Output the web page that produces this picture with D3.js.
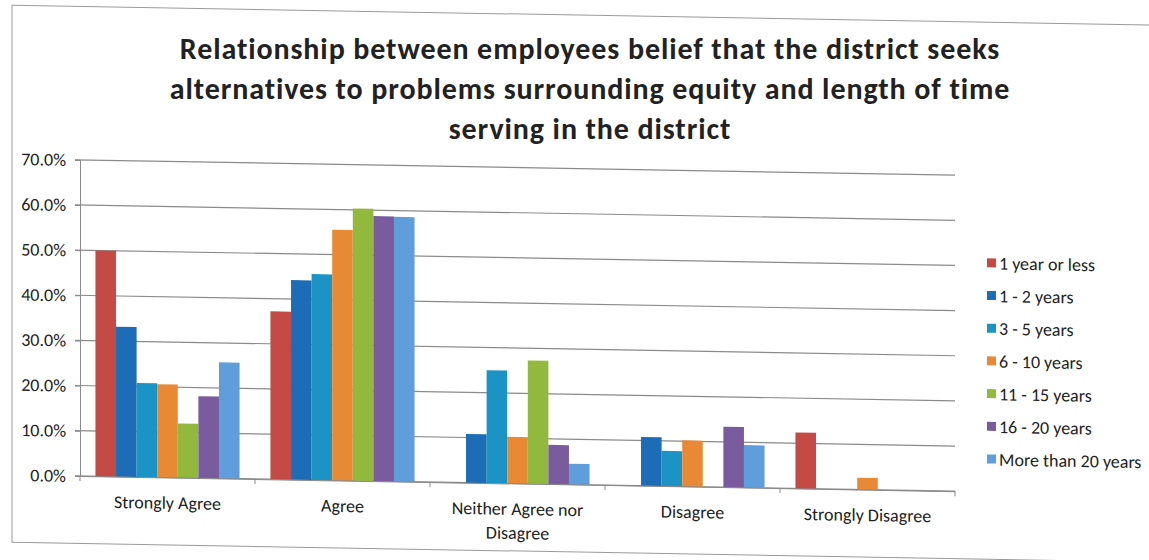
<!DOCTYPE html>
<html>
<head>
<meta charset="utf-8">
<script src="https://cdn.jsdelivr.net/npm/d3@7"></script>
<style>
  body { margin: 0; background: #fff; }
  text { font-family: Carlito, Calibri, Lato, sans-serif; fill: #222; }
</style>
</head>
<body>
<script>
(function(){

	var categories = ["Strongly Agree", "Agree", "Neither Agree nor Disagree", "Disagree", "Strongly Disagree"];
	var seriesNames = ["1 year or less", "1 - 2 years", "3 - 5 years", "6 - 10 years", "11 - 15 years", "16 - 20 years", "More than 20 years"];
	var seriesColors = ["#c44a45", "#1c6db5", "#1b93c4", "#e88a35", "#93b83e", "#7a5c9e", "#5f9ddb"];
	// percent values, one array per series, in category order
	var year1orLess = [50.0, 37.2, 0, 0, 12.4];
	var years1to2 = [33.2, 44.2, 10.8, 10.8, 0];
	var years3to5 = [20.8, 45.6, 25.0, 7.8, 0];
	var years6to10 = [20.6, 55.5, 10.3, 10.2, 2.6];
	var years11to15 = [12.0, 60.3, 27.3, 0, 0];
	var years16to20 = [18.1, 58.7, 8.7, 13.4, 0];
	var moreThan20 = [25.7, 58.6, 4.6, 9.4, 0];
	var yTicks = [0, 10, 20, 30, 40, 50, 60, 70];
	var titleLines = ["Relationship between employees belief that the district seeks",
		"alternatives to problems surrounding equity and length of time",
		"serving in the district"];

	var seriesValues = [year1orLess, years1to2, years3to5, years6to10, years11to15, years16to20, moreThan20];

	const SVG_WIDTH = 1149;
	const SVG_HEIGHT = 560;
	const PLOT_LEFT = 80, PLOT_RIGHT = 955, PLOT_TOP = 158.5, PLOT_BOTTOM = 474.5;
	const GRID_COLOR = "#8a8a8a";
	const LABEL_SIZE = "18px";

	var svg = d3.select("body").append("svg")
		.attr("width", SVG_WIDTH).attr("height", SVG_HEIGHT);

	// the scanned page is slightly skewed
	var page = svg.append("g").attr("transform", "skewY(1)");

	page.append("rect")
		.attr("x", 12).attr("y", 5)
		.attr("width", 1160).attr("height", 537)
		.attr("fill", "none").attr("stroke", "#9a9a9a").attr("stroke-width", 1);

	// title kept level, placed where the skewed lines sit at their centre
	svg.append("g").selectAll("text").data(titleLines).enter().append("text")
		.attr("text-anchor", "middle")
		.attr("x", 590).attr("y", function(d, i){ return 59 + i * 40 })
		.style("font-size", "30px").style("font-weight", "bold").style("letter-spacing", "0.9px")
		.text(function(d){ return d });

	var x0 = d3.scaleBand().domain(categories).range([PLOT_LEFT, PLOT_RIGHT]);
	var x1 = d3.scaleBand().domain(seriesNames).range([0, x0.bandwidth()])
		.paddingInner(0).paddingOuter(0.75);
	var y = d3.scaleLinear().domain([0, 70]).range([PLOT_BOTTOM, PLOT_TOP]);

	page.append("g").selectAll("line").data(yTicks).enter().append("line")
		.attr("x1", PLOT_LEFT - 5).attr("x2", PLOT_RIGHT)
		.attr("y1", function(d){ return y(d) }).attr("y2", function(d){ return y(d) })
		.attr("stroke", GRID_COLOR).attr("stroke-width", 1.2);

	page.append("g").selectAll("g").data(seriesNames).enter().append("g")
		.attr("fill", function(d, i){ return seriesColors[i] })
		.selectAll("rect")
		.data(function(d, i){ return seriesValues[i].map(function(v, j){ return {cat: categories[j], s: d, v: v} }) })
		.enter().append("rect")
		.attr("x", function(d){ return x0(d.cat) + x1(d.s) })
		.attr("y", function(d){ return y(d.v) })
		.attr("width", x1.bandwidth())
		.attr("height", function(d){ return y(0) - y(d.v) });

	var yAxis = page.append("g").attr("transform", "translate(" + PLOT_LEFT + ",0)")
		.call(d3.axisLeft(y).tickValues(yTicks).tickSize(5).tickFormat(function(d){ return d3.format(".1f")(d) + "%" }));
	yAxis.selectAll("path, line").attr("stroke", GRID_COLOR);
	yAxis.selectAll("text").style("font-size", LABEL_SIZE).attr("fill", "#222").attr("x", -14);

	var xAxis = page.append("g").attr("transform", "translate(0," + PLOT_BOTTOM + ")")
		.call(d3.axisBottom(x0).tickSize(0).tickFormat(""));
	xAxis.select("path").attr("stroke", GRID_COLOR);
	xAxis.selectAll(".tick").remove();
	xAxis.selectAll("line.sep").data(d3.range(categories.length + 1)).enter().append("line")
		.attr("class", "sep")
		.attr("x1", function(i){ return PLOT_LEFT + i * x0.step() })
		.attr("x2", function(i){ return PLOT_LEFT + i * x0.step() })
		.attr("y1", 0).attr("y2", 5).attr("stroke", GRID_COLOR);

	var catLabels = page.append("g").selectAll("text").data(categories).enter().append("text")
		.attr("text-anchor", "middle").style("font-size", LABEL_SIZE);
	catLabels.each(function(d){
		var lines = d === "Neither Agree nor Disagree" ? ["Neither Agree nor", "Disagree"] : [d];
		var t = d3.select(this);
		lines.forEach(function(l, i){
			t.append("tspan").attr("x", x0(d) + x0.bandwidth() / 2).attr("y", 506 + i * 24).text(l);
		});
	});

	var legend = page.append("g").selectAll("g").data(seriesNames).enter().append("g")
		.attr("transform", function(d, i){ return "translate(987," + (246 + i * 32.7) + ")" });
	legend.append("rect").attr("x", 0).attr("y", -5).attr("width", 9).attr("height", 9)
		.attr("fill", function(d, i){ return seriesColors[i] });
	legend.append("text").attr("x", 12).attr("y", 6).style("font-size", LABEL_SIZE)
		.text(function(d){ return d });

})();
</script>
</body>
</html>
